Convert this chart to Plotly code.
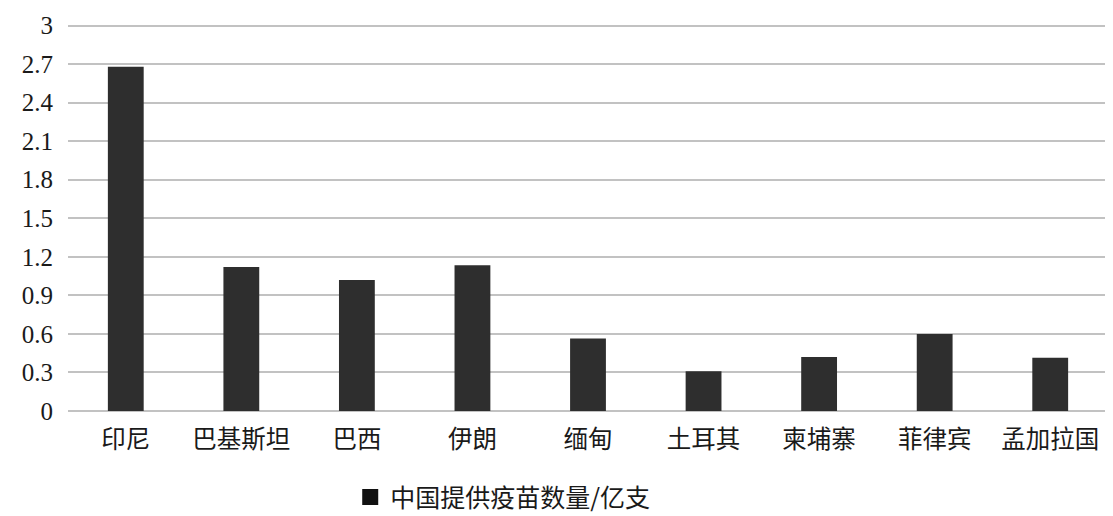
import plotly.graph_objects as go

countries = ["印尼", "巴基斯坦", "巴西", "伊朗", "缅甸", "土耳其", "柬埔寨", "菲律宾", "孟加拉国"]
doses = [2.68, 1.12, 1.02, 1.135, 0.565, 0.31, 0.42, 0.60, 0.415]
series_name = "中国提供疫苗数量/亿支"
y_ticks = [0, 0.3, 0.6, 0.9, 1.2, 1.5, 1.8, 2.1, 2.4, 2.7, 3]

cjk = "Noto Sans CJK SC"
serif = "Liberation Serif"
bar_color = "#2e2e2e"

fig = go.Figure()
fig.add_trace(
    go.Bar(
        x=countries,
        y=doses,
        name=series_name,
        marker=dict(color=bar_color, line=dict(width=0)),
        showlegend=False,
    )
)
# legend-only entry so the square can be bigger than the default bar swatch
fig.add_trace(
    go.Scatter(
        x=[None],
        y=[None],
        mode="markers",
        name=series_name,
        marker=dict(symbol="square", size=16, color="#111111"),
        showlegend=True,
    )
)

# page body has an 8px default margin, so the figure is a bit smaller than the window
fig.update_layout(
    width=1105,
    height=508,
    margin=dict(l=60, r=5, t=15, b=105),
    plot_bgcolor="white",
    paper_bgcolor="white",
    bargap=0.69,
    xaxis=dict(
        tickfont=dict(family=cjk, size=24.5, color="#1a1a1a"),
        showgrid=False,
        showline=False,
        ticks="",
        ticklabelstandoff=11,
    ),
    yaxis=dict(
        range=[0, 3.02],  # a little headroom so the gridline at 3 is drawn
        tickvals=y_ticks,
        ticktext=[f"{v:g}" for v in y_ticks],
        tickfont=dict(family=serif, size=25, color="#1a1a1a"),
        showgrid=True,
        gridcolor="#c2c2c2",
        gridwidth=2,
        zeroline=True,
        zerolinecolor="#c2c2c2",
        zerolinewidth=2,
        ticks="",
        ticklabelstandoff=14,
    ),
    legend=dict(
        orientation="h",
        x=0.418,
        xanchor="center",
        yref="container",
        y=0.037,
        yanchor="middle",
        font=dict(family=cjk, size=25, color="#1a1a1a"),
        itemsizing="trace",
        itemwidth=30,
    ),
)

fig.write_html("out.html")
